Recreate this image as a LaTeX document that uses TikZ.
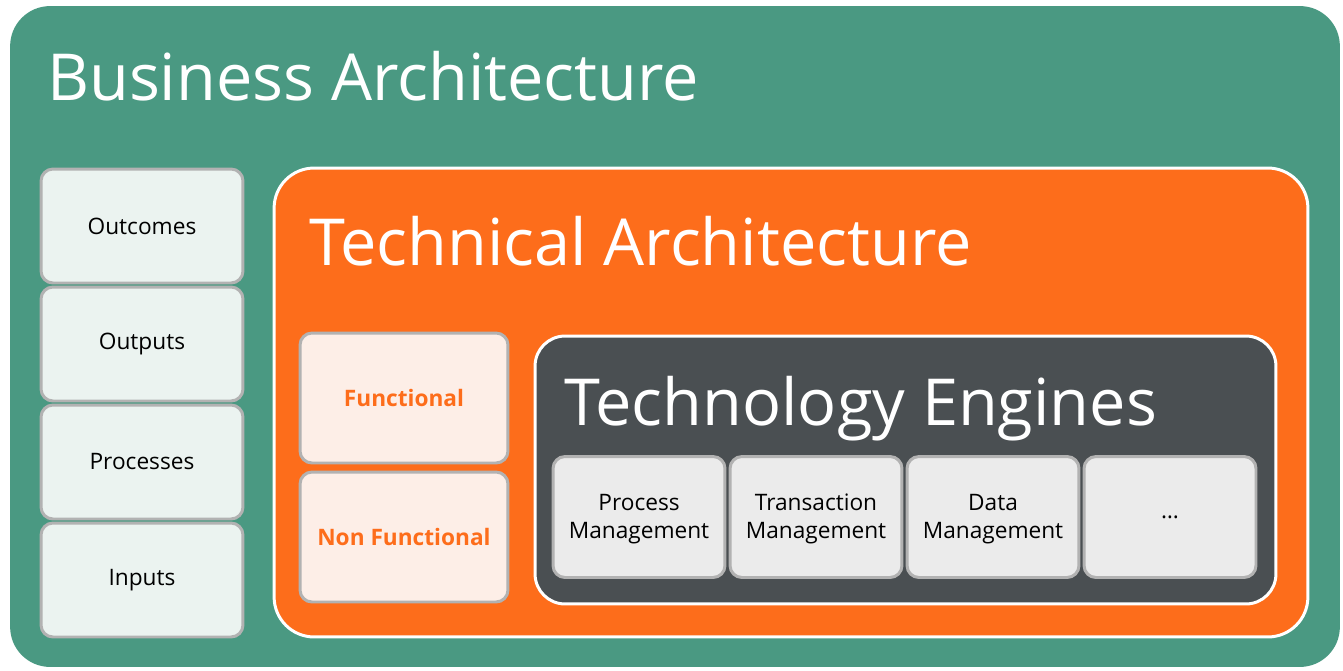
\documentclass[tikz,border=0pt]{standalone}
\usepackage{fontspec}
\setmainfont{Open Sans}
\definecolor{bizgreen}{HTML}{4A9982}
\definecolor{techorange}{HTML}{FD6D1B}
\definecolor{enginegray}{HTML}{4A4F52}
\definecolor{boxborder}{HTML}{B2B2B2}
\definecolor{bizfill}{HTML}{EBF3F0}
\definecolor{techfill}{HTML}{FDEEE7}
\definecolor{enginefill}{HTML}{EBEBEB}
\begin{document}
\begin{tikzpicture}[x=0.02cm, y=-0.02cm,
    layer/.style={rectangle, rounded corners=0.8cm},
    title/.style={anchor=base west, text=white, font=\fontsize{36.9}{42}\selectfont},
    item/.style={rectangle, draw=boxborder, line width=1.7pt, rounded corners=0.24cm, align=center, font=\fontsize{12.9}{16}\selectfont},
    bizitem/.style={item, fill=bizfill, minimum width=4.04cm, minimum height=2.28cm},
    techitem/.style={item, fill=techfill, text=techorange, minimum width=4.16cm, minimum height=2.6cm, font=\fontsize{12.9}{16}\selectfont\bfseries},
    engineitem/.style={item, fill=enginefill, minimum width=3.44cm, minimum height=2.42cm}
]
\useasboundingbox (0,0) rectangle (1343,670);

% Business Architecture
\node[layer, fill=bizgreen, minimum width=26.6cm, minimum height=13.22cm] (business) at (675,336.5) {};
\node[title] (businesstitle) at (41,100) {Business Architecture};
\node[bizitem] (outcomes) at (142,226) {Outcomes};
\node[bizitem] (outputs) at (142,344) {Outputs};
\node[bizitem] (processes) at (142,462) {Processes};
\node[bizitem] (inputs) at (142,580) {Inputs};

% Technical Architecture
\node[layer, fill=techorange, draw=white, line width=1.7pt, minimum width=20.68cm, minimum height=9.38cm] (technical) at (791,402.5) {};
\node[title] (technicaltitle) at (303,265) {Technical Architecture};
\node[techitem] (functional) at (404,398) {Functional};
\node[techitem] (nonfunctional) at (404,537) {Non Functional};

% Technology Engines
\node[layer, rounded corners=0.6cm, fill=enginegray, draw=white, line width=1.7pt, minimum width=14.82cm, minimum height=5.36cm] (engines) at (905.5,470) {};
\node[title] (enginestitle) at (558,425) {Technology Engines};
\node[engineitem] (procmgmt) at (639,517) {\strut Process\\Management};
\node[engineitem] (transmgmt) at (816,517) {\strut Transaction\\Management};
\node[engineitem] (datamgmt) at (993,517) {\strut Data\\Management};
\node[engineitem] (moremgmt) at (1170,517) {\dots};

\end{tikzpicture}
\end{document}
